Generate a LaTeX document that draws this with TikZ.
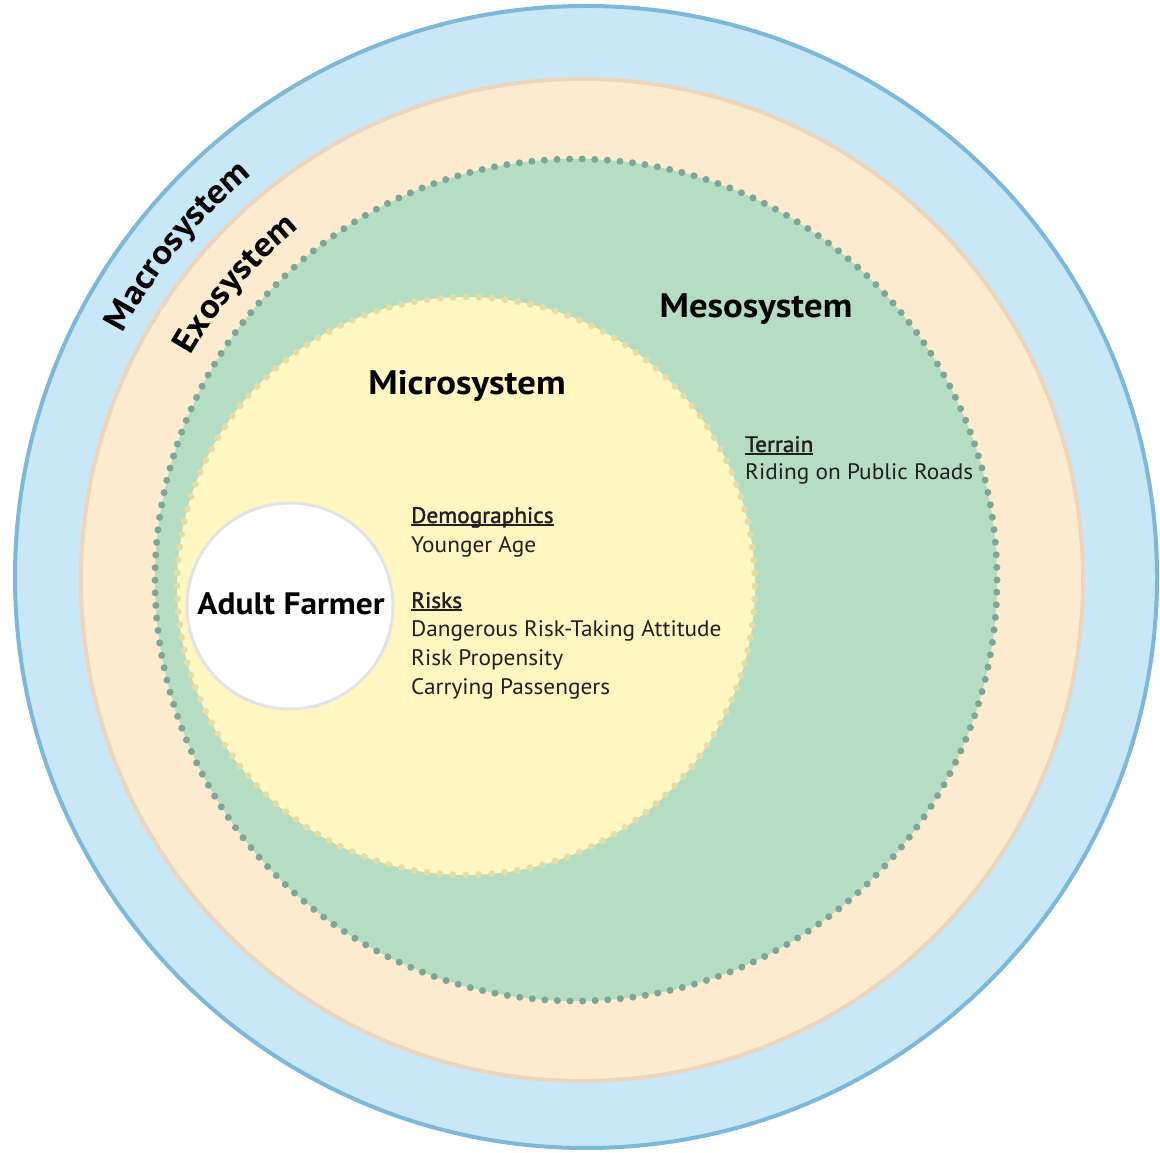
\documentclass[tikz,border=0pt]{standalone}
\usepackage{fontspec}
\setmainfont[FakeStretch=1.04]{PT Sans}
\newfontfamily\semib[FakeBold=1.6,FakeStretch=1.04]{PT Sans}
\newfontfamily\titlefont[FakeStretch=1.08]{PT Sans}
\usetikzlibrary{decorations.text}
\definecolor{macrofill}{HTML}{C8E8F7}
\definecolor{macroline}{HTML}{7DB7DA}
\definecolor{exofill}{HTML}{FDEBD0}
\definecolor{exoline}{HTML}{ECD5BD}
\definecolor{mesofill}{HTML}{B4DDC3}
\definecolor{mesodot}{HTML}{7EA696}
\definecolor{microfill}{HTML}{FFF6C2}
\definecolor{microdot}{HTML}{E4DEA6}
\definecolor{farmline}{HTML}{E3E3E3}
\definecolor{txt}{HTML}{231F20}
\newcommand{\myul}[1]{\setbox0\hbox{#1}\rlap{\color{txt}\rule[-2.8pt]{\wd0}{1.4pt}}\box0}
\begin{document}
\begin{tikzpicture}[x=1pt,y=1pt,
  ring/.style={circle, inner sep=0pt, outer sep=0pt},
  titletext/.style={font=\titlefont\bfseries\fontsize{34}{36}\selectfont, text=black, inner sep=0pt, anchor=base},
  body/.style={font=\fontsize{22.4}{26}\selectfont, text=txt, anchor=base west, inner sep=0pt},
  head/.style={body, font=\semib\fontsize{22.4}{26}\selectfont},
]
\useasboundingbox (0,0) rectangle (1160,1153);
\node[ring, minimum size=1142pt, fill=macrofill, draw=macroline, line width=4pt] (macro) at (586,576) {};
\node[ring, minimum size=1002pt, fill=exofill, draw=exoline, line width=4pt] (exo) at (582,573) {};
\node[ring, minimum size=842pt, fill=mesofill, draw=mesodot, line width=7pt, line cap=round, dash pattern=on 0pt off 12.6pt] (meso) at (576,573) {};
\node[ring, minimum size=578pt, fill=microfill, draw=microdot, line width=7pt, line cap=round, dash pattern=on 0pt off 12.97pt] (micro) at (466,567) {};
\node[ring, minimum size=206pt, fill=white, draw=farmline, line width=3pt] (farmer) at (290,547) {};
\node[titletext, font=\titlefont\bfseries\fontsize{31}{33}\selectfont] (farmerlabel) at (291,538) {Adult Farmer};
\path[decorate, decoration={text along path, text align=center, text={|\titlefont\bfseries\fontsize{34}{36}\selectfont|Macrosystem}}]
  ([shift={(168:523)}]macro.center) arc[start angle=168, end angle=114, radius=523];
\path[decorate, decoration={text along path, text align=center, text={|\titlefont\bfseries\fontsize{34}{36}\selectfont|Exosystem}}]
  ([shift={(164:451)}]exo.center) arc[start angle=164, end angle=115, radius=451];
\node[titletext] (mesolabel) at (756,835) {Mesosystem};
\node[titletext] (microlabel) at (467,758) {Microsystem};
\node[head] (terrain) at (745,701) {\myul{Terrain}};
\node[body] (roads) at (745,673) {Riding on Public Roads};
\node[head] (demo) at (411,630) {\myul{Demographics}};
\node[body] (age) at (411,600) {Younger Age};
\node[head] (risks) at (411,545) {\myul{Risks}};
\node[body] (attitude) at (411,516) {Dangerous Risk-Taking Attitude};
\node[body] (propensity) at (411,487) {Risk Propensity};
\node[body] (passengers) at (411,458) {Carrying Passengers};
\end{tikzpicture}
\end{document}
